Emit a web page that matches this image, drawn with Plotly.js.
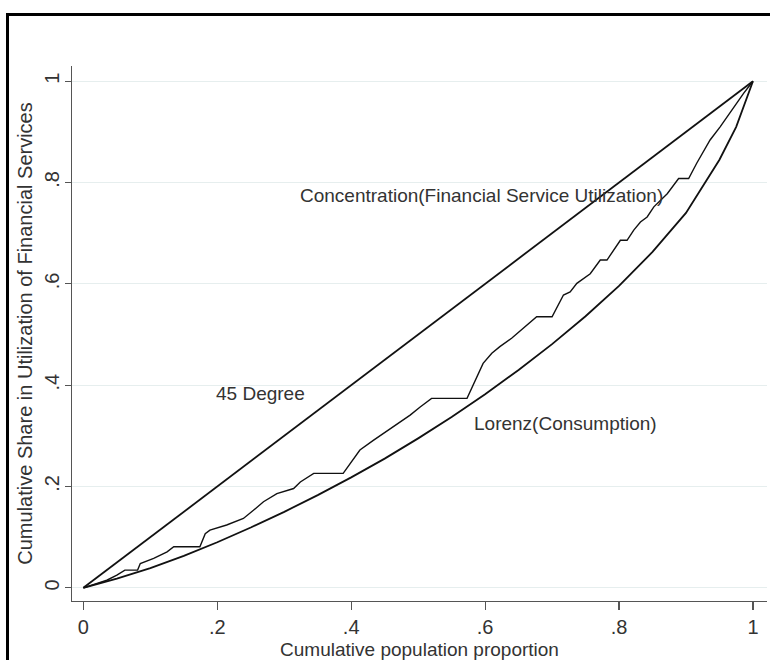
<!DOCTYPE html>
<html>
<head>
<meta charset="utf-8">
<script src="https://cdn.plot.ly/plotly-3.0.1.min.js"></script>
<style>
  html, body { margin: 0; padding: 0; background: #fff; }
  #wrap { position: relative; width: 770px; height: 660px; overflow: hidden; }
  #chart { width: 770px; height: 660px; }
  #frame { position: absolute; left: 6px; top: 13px; width: 800px; height: 700px;
           border-left: 3px solid #000; border-top: 3px solid #000; pointer-events: none; }
</style>
</head>
<body>
<div id="wrap">
  <div id="chart"></div>
  <div id="frame"></div>
</div>
<script>
// 45 degree line
const diagX = [0, 1];
const diagY = [0, 1];

// Lorenz curve (Consumption)
const lorenzX = [0, 0.05, 0.1, 0.15, 0.2, 0.25, 0.3, 0.35, 0.4, 0.45, 0.5, 0.55, 0.6, 0.65, 0.7, 0.75, 0.8, 0.85, 0.9, 0.95, 0.975, 1];
const lorenzY = [0, 0.018, 0.039, 0.063, 0.090, 0.119, 0.150, 0.183, 0.218, 0.255, 0.295, 0.337, 0.382, 0.430, 0.481, 0.536, 0.596, 0.663, 0.740, 0.845, 0.910, 1];

// Concentration curve (Financial Service Utilization)
const concX = [0, 0.035, 0.05, 0.062, 0.081, 0.085, 0.105, 0.125, 0.135, 0.174, 0.182, 0.189, 0.214, 0.239, 0.254, 0.269, 0.289, 0.314, 0.324, 0.344, 0.388, 0.398, 0.413, 0.433, 0.448, 0.473, 0.488, 0.503, 0.520, 0.573, 0.583, 0.597, 0.610, 0.622, 0.640, 0.657, 0.677, 0.700, 0.717, 0.727, 0.737, 0.757, 0.772, 0.782, 0.792, 0.802, 0.812, 0.822, 0.832, 0.842, 0.852, 0.872, 0.889, 0.904, 0.916, 0.936, 0.951, 0.971, 0.986, 1];
const concY = [0, 0.015, 0.025, 0.035, 0.035, 0.048, 0.058, 0.071, 0.081, 0.081, 0.107, 0.114, 0.124, 0.137, 0.153, 0.170, 0.186, 0.196, 0.209, 0.226, 0.226, 0.245, 0.272, 0.291, 0.305, 0.328, 0.341, 0.357, 0.374, 0.374, 0.403, 0.443, 0.463, 0.476, 0.493, 0.512, 0.535, 0.535, 0.578, 0.584, 0.601, 0.620, 0.647, 0.647, 0.666, 0.686, 0.686, 0.706, 0.722, 0.732, 0.752, 0.778, 0.808, 0.808, 0.838, 0.884, 0.910, 0.949, 0.976, 1];

// Tick labels
const tickVals = [0, 0.2, 0.4, 0.6, 0.8, 1];
const tickLabels = ['0', '.2', '.4', '.6', '.8', '1'];

// Curve labels
const labelText = ['Concentration(Financial Service Utilization)', '45 Degree', 'Lorenz(Consumption)'];
const labelX = [0.595, 0.264, 0.72];
const labelY = [0.775, 0.384, 0.325];

const FONT = '"Liberation Sans", Arial, Helvetica, sans-serif';

const traces = [
  {x: diagX, y: diagY, mode: 'lines', line: {color: '#111', width: 1.8}, hoverinfo: 'skip'},
  {x: concX, y: concY, mode: 'lines', line: {color: '#111', width: 1.4}, hoverinfo: 'skip'},
  {x: lorenzX, y: lorenzY, mode: 'lines', line: {color: '#111', width: 1.8}, hoverinfo: 'skip'}
];

const annotations = labelText.map((t, i) => ({
  x: labelX[i], y: labelY[i], xref: 'x', yref: 'y', text: t, showarrow: false,
  font: {family: FONT, size: 19, color: '#333'}
}));

const layout = {
  width: 770, height: 660,
  margin: {l: 72, r: 3, t: 66, b: 59},
  paper_bgcolor: '#fff', plot_bgcolor: '#fff',
  showlegend: false,
  font: {family: FONT, color: '#333'},
  xaxis: {
    range: [-0.017, 1.021], tickvals: tickVals, ticktext: tickLabels,
    showgrid: false, zeroline: false, showline: true, linecolor: '#555', linewidth: 1.2,
    ticks: 'outside', ticklen: 8, tickcolor: '#555', tickwidth: 1.2,
    tickfont: {family: FONT, size: 20, color: '#333'},
    title: {text: 'Cumulative population proportion', font: {family: FONT, size: 19, color: '#333'}, standoff: 5}
  },
  yaxis: {
    range: [-0.026, 1.03], tickvals: tickVals, ticktext: tickLabels, tickangle: -90,
    showgrid: true, gridcolor: '#e6eeee', gridwidth: 1, zeroline: false,
    showline: true, linecolor: '#555', linewidth: 1.2,
    ticks: 'outside', ticklen: 6, tickcolor: '#555', tickwidth: 1.2,
    ticklabelstandoff: -2,
    tickfont: {family: FONT, size: 20, color: '#333'},
    title: {text: 'Cumulative Share in Utilization of Financial Services', font: {family: FONT, size: 20, color: '#333'}, standoff: 2}
  },
  annotations: annotations
};

Plotly.newPlot('chart', traces, layout, {displayModeBar: false, staticPlot: true});
</script>
</body>
</html>
